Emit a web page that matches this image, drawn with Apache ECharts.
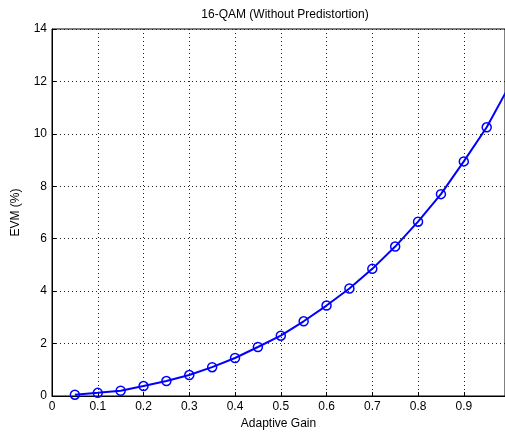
<!DOCTYPE html>
<html><head><meta charset="utf-8">
<script src="https://cdn.jsdelivr.net/npm/echarts@6/dist/echarts.min.js"></script>
<style>html,body{margin:0;padding:0;background:#fff}#c{width:505px;height:435px}</style>
</head><body><div id="c"></div>
<script>
const gains = [0.05,0.1,0.15,0.2,0.25,0.3,0.35,0.4,0.45,0.5,0.55,0.6,0.65,0.7,0.75,0.8,0.85,0.9,0.95,1.0];
const evm = [0.05,0.12,0.2,0.38,0.57,0.8,1.1,1.45,1.87,2.3,2.85,3.45,4.1,4.85,5.7,6.65,7.7,8.95,10.25,11.85];
const titleText = '16-QAM (Without Predistortion)';
const xName = 'Adaptive Gain';
const yName = 'EVM (%)';

const chart = echarts.init(document.getElementById('c'), null, {renderer:'canvas'});
const font = 'Liberation Sans, Arial, sans-serif';
chart.setOption({
  animation:false,
  title:{text:titleText,left:280,textAlign:'center',top:4,textStyle:{fontFamily:font,fontSize:12,fontWeight:'normal',color:'#000'}},
  grid:{left:52,top:29,bottom:38,right:0,show:true,borderColor:'#000',borderWidth:1,containLabel:false},
  xAxis:{type:'value',min:0,max:0.99,interval:0.1,name:xName,nameLocation:'middle',nameGap:22,
    nameTextStyle:{fontFamily:font,fontSize:12,color:'#000'},
    axisLine:{lineStyle:{color:'#000'}},axisTick:{inside:true,length:4,lineStyle:{color:'#000'}},
    axisLabel:{fontFamily:font,fontSize:12,color:'#000',margin:5,showMaxLabel:false},
    splitLine:{show:true,lineStyle:{color:'#222',type:[1,3],width:1}}},
  yAxis:{type:'value',min:0,max:14,interval:2,name:yName,nameLocation:'middle',nameGap:30,
    nameTextStyle:{fontFamily:font,fontSize:12,color:'#000'},
    axisLine:{show:true,lineStyle:{color:'#000'}},axisTick:{show:true,inside:true,length:4,lineStyle:{color:'#000'}},
    axisLabel:{fontFamily:font,fontSize:12,color:'#000',margin:5},
    splitLine:{show:true,lineStyle:{color:'#222',type:[1,3],width:1}}},
  series:[{type:'line',data:gains.map((g,i)=>[g,evm[i]]),symbol:'circle',symbolSize:9,showSymbol:true,
    lineStyle:{color:'#0000ff',width:2},
    itemStyle:{color:'rgba(255,255,255,0)',borderColor:'#0000ff',borderWidth:1.5},clip:true}]
});
</script></body></html>
